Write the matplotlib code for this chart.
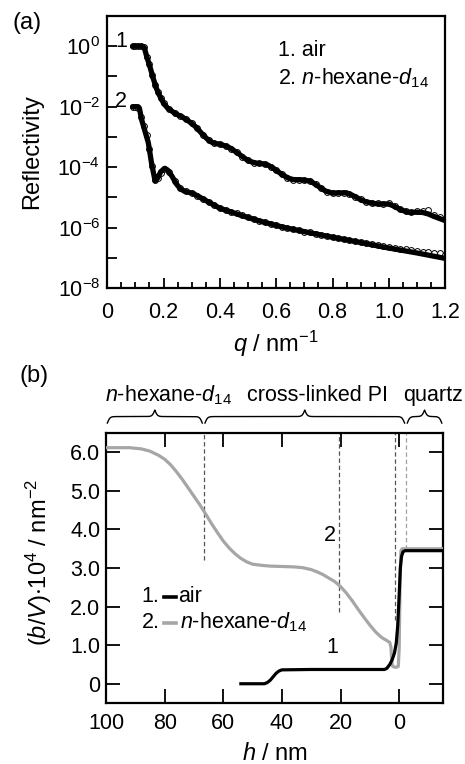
#!/usr/bin/env python3
"""Neutron reflectivity profiles (a) and SLD depth profiles (b)."""

import matplotlib

matplotlib.use("Agg")
import matplotlib.pyplot as plt
import numpy as np
from matplotlib.ticker import FixedLocator, FixedFormatter, NullFormatter

plt.rcParams["font.family"] = ["Liberation Sans", "DejaVu Sans"]
plt.rcParams["mathtext.fontset"] = "custom"
plt.rcParams["mathtext.rm"] = "Liberation Sans"
plt.rcParams["mathtext.it"] = "Liberation Sans:italic"
plt.rcParams["mathtext.default"] = "regular"

# ---- panel (a): reflectivity, data points (q in nm^-1, log10 R) ----
q_data = [0.09, 0.10, 0.11, 0.12, 0.13, 0.14, 0.15, 0.16, 0.17, 0.18, 0.19, 0.20,
          0.22, 0.24, 0.26, 0.28, 0.30, 0.32, 0.34, 0.36, 0.38, 0.40, 0.42, 0.44,
          0.46, 0.48, 0.50, 0.52, 0.54, 0.56, 0.58, 0.60, 0.62, 0.64, 0.66, 0.68,
          0.70, 0.72, 0.74, 0.76, 0.78, 0.80, 0.82, 0.84, 0.86, 0.88, 0.90, 0.92,
          0.94, 0.96, 0.98, 1.00, 1.02, 1.04, 1.06, 1.08, 1.10, 1.12, 1.14, 1.16,
          1.18, 1.20]
logr_air_data = [0.0, 0.0, 0.0, 0.0, -0.03, -0.35, -0.6, -0.95, -1.28, -1.52, -1.7, -1.87,
                 -2.09, -2.2, -2.3, -2.42, -2.55, -2.72, -2.93, -3.1, -3.2, -3.22, -3.3, -3.39,
                 -3.5, -3.66, -3.78, -3.85, -3.87, -3.9, -3.98, -4.1, -4.24, -4.35, -4.41, -4.42,
                 -4.43, -4.47, -4.57, -4.7, -4.82, -4.86, -4.84, -4.86, -4.9, -4.98, -5.07, -5.15,
                 -5.2, -5.2, -5.21, -5.2, -5.3, -5.4, -5.46, -5.5, -5.46, -5.46, -5.43, -5.58,
                 -5.66, -5.7]
logr_hex_data = [-2.0, -2.0, -2.03, -2.35, -2.65, -2.95, -3.4, -3.95, -4.42, -4.37, -4.2, -4.06,
                 -4.15, -4.47, -4.7, -4.8, -4.85, -4.95, -5.05, -5.16, -5.25, -5.36, -5.42, -5.47,
                 -5.53, -5.58, -5.65, -5.71, -5.77, -5.82, -5.87, -5.92, -5.97, -6.01, -6.05, -6.09,
                 -6.13, -6.16, -6.2, -6.24, -6.28, -6.31, -6.34, -6.38, -6.41, -6.45, -6.48, -6.51,
                 -6.54, -6.58, -6.61, -6.64, -6.66, -6.7, -6.72, -6.75, -6.78, -6.8, -6.81, -6.83,
                 -6.85, -6.9]

# fitted curves
q_fit_air = [0.090, 0.110, 0.125, 0.132, 0.140, 0.150, 0.163, 0.175, 0.187, 0.200, 0.215,
             0.230, 0.246, 0.265, 0.280, 0.300, 0.317, 0.335, 0.353, 0.370, 0.385, 0.400,
             0.420, 0.435, 0.450, 0.470, 0.490, 0.507, 0.530, 0.554, 0.570, 0.589, 0.605,
             0.625, 0.645, 0.660, 0.690, 0.720, 0.740, 0.755, 0.775, 0.800, 0.830, 0.850,
             0.870, 0.885, 0.900, 0.920, 0.945, 0.968, 1.000, 1.020, 1.040, 1.060, 1.075,
             1.100, 1.120, 1.140, 1.157, 1.180, 1.200]
logr_fit_air = [0.0, 0.0, 0.0, -0.05, -0.33, -0.62, -1.05, -1.4, -1.65, -1.88, -2.05,
                -2.15, -2.25, -2.33, -2.42, -2.55, -2.69, -2.88, -3.05, -3.17, -3.22, -3.24,
                -3.3, -3.36, -3.45, -3.58, -3.72, -3.81, -3.87, -3.89, -3.93, -4.03, -4.14,
                -4.27, -4.37, -4.41, -4.42, -4.46, -4.57, -4.67, -4.79, -4.86, -4.85, -4.85,
                -4.93, -5.0, -5.08, -5.15, -5.2, -5.22, -5.22, -5.3, -5.4, -5.47, -5.5,
                -5.49, -5.5, -5.55, -5.62, -5.7, -5.77]
q_fit_hex = [0.090, 0.110, 0.115, 0.122, 0.146, 0.158, 0.170, 0.180, 0.190, 0.205, 0.215,
             0.230, 0.246, 0.260, 0.275, 0.305, 0.353, 0.400, 0.470, 0.540, 0.625, 0.708,
             0.800, 0.897, 0.990, 1.100, 1.200]
logr_fit_hex = [-2.0, -2.0, -2.08, -2.42, -3.19, -3.9, -4.45, -4.35, -4.15, -4.04, -4.1,
                -4.3, -4.56, -4.72, -4.8, -4.87, -5.12, -5.36, -5.58, -5.78, -5.99, -6.15,
                -6.32, -6.49, -6.66, -6.84, -7.02]

# ---- panel (b): SLD profiles (h in nm, (b/V)*1e4 in nm^-2) ----
h_hex = [100, 92, 88, 85, 82, 80, 78, 76, 74, 72, 70, 68, 66, 64, 62, 60, 58, 56, 54, 52,
         50, 47, 44, 40, 36, 33, 30, 28, 26, 24, 22, 20, 18, 16, 14, 12, 10, 8, 6, 4,
         3.2, 2.8, 2.5, 2.2, 1.5, 0.8, 0.3, 0.0, -0.3, -0.6, -1.0, -2, -15]
sld_hex = [6.12, 6.12, 6.09, 6.03, 5.92, 5.82, 5.68, 5.5, 5.3, 5.08, 4.86, 4.64, 4.4, 4.15,
           3.92, 3.7, 3.52, 3.37, 3.25, 3.16, 3.1, 3.07, 3.05, 3.04, 3.03, 3.01, 2.96, 2.9,
           2.83, 2.74, 2.65, 2.52, 2.35, 2.15, 1.93, 1.72, 1.52, 1.34, 1.2, 1.11,
           1.07, 0.95, 0.55, 0.45, 0.43, 0.43, 0.45, 0.9, 2.6, 3.45, 3.5, 3.5, 3.5]
h_air = [54, 46, 45, 44, 43, 42, 41, 40, 30, 20, 10, 5, 4.2, 3.2, 2.4, 1.6, 1.0, 0.5,
         0.0, -0.4, -0.8, -1.3, -2, -15]
sld_air = [0.0, 0.0, 0.03, 0.09, 0.18, 0.27, 0.33, 0.36, 0.37, 0.37, 0.37, 0.37, 0.4,
           0.5, 0.62, 0.8, 1.05, 1.5, 2.3, 3.0, 3.3, 3.42, 3.45, 3.45]

# interfaces marked by dashed lines: position, lower end of the dash
interface_h = [66.7, 20.6, 1.5, -2.3]
interface_low = [3.2, 1.85, 1.65, 3.5]
interface_color = ["#555555", "#555555", "#555555", "#a0a0a0"]

layer_names = [r"$\it{n}$-hexane-$\it{d}$$_{14}$", "cross-linked PI", "quartz"]
layer_bounds = [100, 66.7, -2.3, -15]

GRAY = "#a6a6a6"
TICK_FS = 15.5
LABEL_FS = 17
TEXT_FS = 15.5

fig = plt.figure(figsize=(4.65, 7.64), dpi=100)

# ------------------------------------------------------------------ (a)
ax = fig.add_axes([0.2305, 0.623, 0.727, 0.356])
ax.plot(q_data, 10.0 ** np.array(logr_air_data), "o", ms=4.2, mfc="white",
        mec="black", mew=0.7, zorder=2)
ax.plot(q_data, 10.0 ** np.array(logr_hex_data), "o", ms=4.2, mfc="white",
        mec="black", mew=0.7, zorder=2)
ax.plot(q_fit_air, 10.0 ** np.array(logr_fit_air), color="black", lw=3.8,
        solid_capstyle="round", solid_joinstyle="round", zorder=3)
ax.plot(q_fit_hex, 10.0 ** np.array(logr_fit_hex), color="black", lw=3.8,
        solid_capstyle="round", solid_joinstyle="round", zorder=3)
ax.set_yscale("log")
ax.set_xlim(0, 1.2)
ax.set_ylim(1e-8, 1e1)
ax.yaxis.set_major_locator(FixedLocator([1e-8, 1e-6, 1e-4, 1e-2, 1e0]))
ax.yaxis.set_major_formatter(FixedFormatter(
    [r"$10^{-8}$", r"$10^{-6}$", r"$10^{-4}$", r"$10^{-2}$", r"$10^{0}$"]))
ax.yaxis.set_minor_locator(FixedLocator([1e-7, 1e-5, 1e-3, 1e-1]))
ax.yaxis.set_minor_formatter(NullFormatter())
ax.xaxis.set_major_locator(FixedLocator([0, 0.2, 0.4, 0.6, 0.8, 1.0, 1.2]))
ax.xaxis.set_major_formatter(FixedFormatter(["0", "0.2", "0.4", "0.6", "0.8", "1.0", "1.2"]))
ax.xaxis.set_minor_locator(FixedLocator(np.arange(0.05, 1.2, 0.05)))
ax.tick_params(which="both", direction="in", top=False, right=False, width=1.3,
               labelsize=TICK_FS)
ax.tick_params(axis="y", which="both", length=7, pad=5)
ax.tick_params(axis="x", which="major", length=7, pad=10)
ax.tick_params(axis="x", which="minor", length=4)
for sp in ax.spines.values():
    sp.set_linewidth(1.6)
ax.set_ylabel("Reflectivity", fontsize=LABEL_FS)
ax.yaxis.set_label_coords(-0.19, 0.5)
ax.set_xlabel(r"$\it{q}$ / nm$^{-1}$", fontsize=LABEL_FS)
ax.xaxis.set_label_coords(0.5, -0.15)
ax.text(0.05, 10 ** 0.17, "1", fontsize=TEXT_FS, ha="center", va="center")
ax.text(0.05, 10 ** -1.82, "2", fontsize=TEXT_FS, ha="center", va="center")
ax.text(0.506, 0.875, "1. air", fontsize=TEXT_FS, transform=ax.transAxes, va="center")
ax.text(0.506, 0.772, r"2. $\it{n}$-hexane-$\it{d}$$_{14}$", fontsize=TEXT_FS,
        transform=ax.transAxes, va="center")
fig.text(0.026, 0.97, "(a)", fontsize=LABEL_FS, va="center")

# ------------------------------------------------------------------ (b)
bx = fig.add_axes([0.228, 0.0798, 0.725, 0.3534])
bx.plot(h_hex, sld_hex, color=GRAY, lw=2.3, zorder=3)
bx.plot(h_air, sld_air, color="black", lw=2.3, zorder=4)
for h, low, col in zip(interface_h, interface_low, interface_color):
    bx.plot([h, h], [low, 6.5], color=col, lw=0.9, ls=(0, (3.5, 2.2)), zorder=2)
bx.set_xlim(100, -15)
bx.set_ylim(-0.5, 6.5)
bx.xaxis.set_major_locator(FixedLocator([100, 80, 60, 40, 20, 0]))
bx.yaxis.set_major_locator(FixedLocator([0, 1, 2, 3, 4, 5, 6]))
bx.yaxis.set_major_formatter(FixedFormatter(["0", "1.0", "2.0", "3.0", "4.0", "5.0", "6.0"]))
bx.tick_params(which="both", direction="in", top=True, right=True, length=10,
               width=1.3, labelsize=TICK_FS)
bx.tick_params(axis="y", pad=4)
bx.tick_params(axis="x", pad=7)
for sp in bx.spines.values():
    sp.set_linewidth(1.6)
bx.set_ylabel(r"($\it{b}$/$\it{V}$)$\cdot$10$^{4}$ / nm$^{-2}$", fontsize=LABEL_FS)
bx.yaxis.set_label_coords(-0.155, 0.52)
bx.set_xlabel(r"$\it{h}$ / nm", fontsize=LABEL_FS)
bx.xaxis.set_label_coords(0.5, -0.148)
bx.text(0.665, 0.622, "2", fontsize=TEXT_FS, transform=bx.transAxes, ha="center", va="center")
bx.text(0.672, 0.204, "1", fontsize=TEXT_FS, transform=bx.transAxes, ha="center", va="center")

# manual legend
bx.text(0.106, 0.393, "1.", fontsize=TEXT_FS, transform=bx.transAxes, va="center")
bx.plot([0.172, 0.207], [0.393, 0.393], color="black", lw=2.6, transform=bx.transAxes)
bx.text(0.215, 0.393, "air", fontsize=TEXT_FS, transform=bx.transAxes, va="center")
bx.text(0.106, 0.298, "2.", fontsize=TEXT_FS, transform=bx.transAxes, va="center")
bx.plot([0.172, 0.207], [0.298, 0.298], color=GRAY, lw=2.6, transform=bx.transAxes)
bx.text(0.218, 0.298, r"$\it{n}$-hexane-$\it{d}$$_{14}$", fontsize=TEXT_FS,
        transform=bx.transAxes, va="center")


def h_to_frac(h):
    return (100.0 - h) / 115.0


def draw_brace(axis, f0, f1, base=1.037, tip=1.085, beta=260.0):
    n = 401
    xs = np.linspace(f0, f1, n)
    half = xs[: n // 2 + 1]
    yh = (1.0 / (1.0 + np.exp(-beta * (half - half[0])))
          + 1.0 / (1.0 + np.exp(-beta * (half - half[-1]))))
    ys = np.concatenate((yh, yh[-2::-1]))
    ys = base + (ys - 0.5) * (tip - base)
    axis.plot(xs, ys, color="black", lw=1.0, transform=axis.transAxes, clip_on=False)


for a, b in zip(layer_bounds[:-1], layer_bounds[1:]):
    draw_brace(bx, h_to_frac(a) + 0.004, h_to_frac(b) - 0.004)

bx.text(h_to_frac(100.5), 1.14, layer_names[0], fontsize=TEXT_FS, transform=bx.transAxes,
        ha="left", va="center")
bx.text(h_to_frac(28), 1.14, layer_names[1], fontsize=TEXT_FS, transform=bx.transAxes,
        ha="center", va="center")
bx.text(h_to_frac(-11.5), 1.14, layer_names[2], fontsize=TEXT_FS, transform=bx.transAxes,
        ha="center", va="center")
fig.text(0.042, 0.508, "(b)", fontsize=LABEL_FS, va="center")

fig.savefig("out.png", dpi=100)
